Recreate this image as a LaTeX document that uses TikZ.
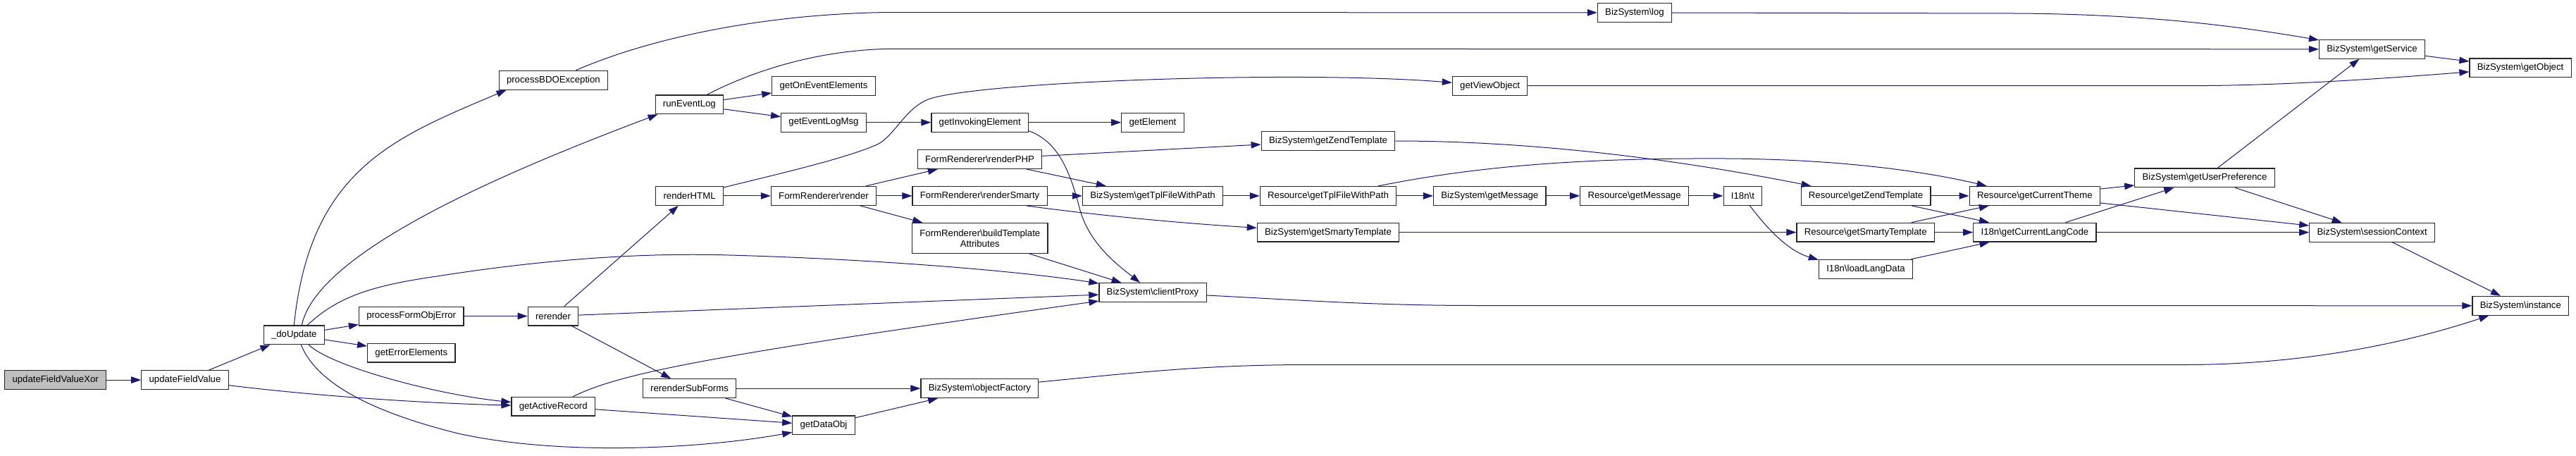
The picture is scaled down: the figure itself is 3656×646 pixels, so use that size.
\documentclass[tikz,border=0pt]{standalone}
\usepackage{fontspec}
\setmainfont{Liberation Sans}
\usetikzlibrary{arrows.meta}
\definecolor{callblue}{HTML}{191970}
\newcommand{\nsep}{\textbackslash{}}

\begin{document}
\begin{tikzpicture}[
  x=1pt, y=-1pt,
  font=\fontsize{13.2}{15}\selectfont,
  fn/.style={rectangle, draw=black!85, line width=1.2pt, fill=white, inner xsep=10.8pt,
             inner ysep=5pt, minimum height=26.8pt, align=center},
  root/.style={fn, fill=black!25},
  call/.style={-{Triangle[length=14pt,width=9.5pt]}, draw=callblue, line width=1pt}
]
\path[use as bounding box, fill=white] (0,0) rectangle (3656,646);

\node[root] (root)  at (78.7,539.1)   {updateFieldValueXor};
\node[fn]   (upd)   at (262.5,539.1)  {updateFieldValue};
\node[fn]   (doupd) at (417.3,475.3)  {\_doUpdate};
\node[fn]   (pfoe)  at (583.7,448.5)  {processFormObjError};
\node[fn]   (gee)   at (583.8,500.6)  {getErrorElements};
\node[fn]   (bdo)   at (785.4,113.7)  {processBDOException};
\node[fn]   (rer)   at (785,448.5)    {rerender};
\node[fn]   (gar)   at (785.2,576.6)  {getActiveRecord};
\node[fn]   (rel)   at (978.4,148.3)  {runEventLog};
\node[fn]   (rhtml) at (978.6,277.9)  {renderHTML};
\node[fn]   (rsf)   at (978.6,551.1)  {rerenderSubForms};
\node[fn]   (goee)  at (1169,121.7)   {getOnEventElements};
\node[fn]   (gelm)  at (1169,173.7)   {getEventLogMsg};
\node[fn]   (frr)   at (1169,277.9)   {FormRenderer\nsep render};
\node[fn]   (gdo)   at (1169,603.4)   {getDataObj};
\node[fn]   (ginv)  at (1390.7,173.7) {getInvokingElement};
\node[fn]   (rphp)  at (1390.6,226)   {FormRenderer\nsep renderPHP};
\node[fn]   (rsm)   at (1390.6,277.9) {FormRenderer\nsep renderSmarty};
\node[fn, minimum height=42.9pt] (btpl) at (1390.8,337.9) {FormRenderer\nsep buildTemplate\\Attributes};
\node[fn]   (bof)   at (1390.4,551.1) {BizSystem\nsep objectFactory};
\node[fn]   (gel)   at (1636,173.7)   {getElement};
\node[fn]   (btfp)  at (1636,277.9)   {BizSystem\nsep getTplFileWithPath};
\node[fn]   (cp)    at (1636,415.1)   {BizSystem\nsep clientProxy};
\node[fn]   (bzt)   at (1885,200)     {BizSystem\nsep getZendTemplate};
\node[fn]   (rtfp)  at (1885,277.9)   {Resource\nsep getTplFileWithPath};
\node[fn]   (bst)   at (1885,329.6)   {BizSystem\nsep getSmartyTemplate};
\node[fn]   (gvo)   at (2114.6,121.7) {getViewObject};
\node[fn]   (bgm)   at (2114.3,277.9) {BizSystem\nsep getMessage};
\node[fn]   (blog)  at (2320,17.9)    {BizSystem\nsep log};
\node[fn]   (rgm)   at (2319.6,277.9) {Resource\nsep getMessage};
\node[fn]   (it)    at (2473.4,277.9) {I18n\nsep t};
\node[fn]   (rzt)   at (2648,277.9)   {Resource\nsep getZendTemplate};
\node[fn]   (rst)   at (2647.7,329.6) {Resource\nsep getSmartyTemplate};
\node[fn]   (lld)   at (2648,381.7)   {I18n\nsep loadLangData};
\node[fn]   (gct)   at (2887.8,277.9) {Resource\nsep getCurrentTheme};
\node[fn]   (glc)   at (2887.9,329.6) {I18n\nsep getCurrentLangCode};
\node[fn]   (gup)   at (3129,252.4)   {BizSystem\nsep getUserPreference};
\node[fn]   (gsv)   at (3366.5,69.8)  {BizSystem\nsep getService};
\node[fn]   (sctx)  at (3366.7,329.7) {BizSystem\nsep sessionContext};
\node[fn]   (gobj)  at (3577,96.3)    {BizSystem\nsep getObject};
\node[fn]   (inst)  at (3577.3,433.8) {BizSystem\nsep instance};

\draw[call] (root) -- (upd);
\draw[call] (upd) -- (doupd);
\draw[call] (upd) .. controls (450,562) and (600,572) .. (gar);
\draw[call] (doupd.north) .. controls (440,240) and (560,195) .. ([xshift=11pt]bdo.south west);
\draw[call] ([xshift=11pt]doupd.north) .. controls (450,360) and (700,250) .. ([xshift=4pt]rel.south west);
\draw[call] ([xshift=19pt]doupd.north) .. controls (480,420) and (530,405) .. (620,392)
  .. controls (760,370) and (900,358) .. (1035,362)
  .. controls (1250,368) and (1450,385) .. ([yshift=-1pt]cp.north west);
\draw[call] (doupd) -- (pfoe);
\draw[call] (doupd) -- (gee);
\draw[call] ([xshift=21pt]doupd.south) .. controls (470,520) and (620,560) .. (gar);
\draw[call] ([xshift=10pt]doupd.south) .. controls (450,545) and (530,585) .. (650,615)
  .. controls (800,648) and (1000,636) .. ([yshift=4pt]gdo.south west);
\draw[call] ([xshift=32pt]bdo.north) .. controls (920,55) and (1080,20) .. (1260,17.5) -- (blog);
\draw[call] ([xshift=25pt]rel.north) .. controls (1060,105) and (1150,72) .. (1260,69.3) -- (gsv);
\draw[call] (rel) -- (goee);
\draw[call] (rel) -- (gelm);
\draw[call] (gelm) -- (ginv);
\draw[call] (ginv) -- (gel);
\draw[call] ([yshift=2pt]ginv.south east) .. controls (1500,200) and (1518,240) .. (1532,295)
  .. controls (1545,345) and (1585,375) .. ([xshift=-18pt]cp.north);
\draw[call] (blog) -- (2860,19) .. controls (3050,20) and (3180,38) .. ([yshift=-1pt]gsv.north west);
\draw[call] ([yshift=-2pt]rhtml.north east) .. controls (1100,248) and (1200,225) .. (1245,205)
  .. controls (1270,193) and (1285,152) .. (1320,140)
  .. controls (1400,115) and (1850,100) .. (gvo);
\draw[call] (rhtml) -- (frr);
\draw[call] (frr) -- (rphp);
\draw[call] (frr) -- (rsm);
\draw[call] (frr) -- (btpl);
\draw[call] (rphp) -- (bzt);
\draw[call] (rphp) -- (btfp);
\draw[call] (rsm) -- (btfp);
\draw[call] ([xshift=66pt]rsm.south) .. controls (1530,302) and (1650,315) .. (bst);
\draw[call] (btpl) -- (cp);
\draw[call] (btfp) -- (rtfp);
\draw[call] (bzt) .. controls (2150,200) and (2350,220) .. ([xshift=15pt]rzt.north west);
\draw[call] (rtfp) -- (bgm);
\draw[call] ([xshift=71pt]rtfp.north) .. controls (2100,235) and (2250,224) .. (2450,225)
  .. controls (2620,226) and (2740,245) .. ([xshift=25pt]gct.north west);
\draw[call] (bgm) -- (rgm);
\draw[call] (rgm) -- (it);
\draw[call] (bst) -- (rst);
\draw[call] ([xshift=10pt]it.south) .. controls (2505,320) and (2535,355) .. ([yshift=-1pt]lld.north west);
\draw[call] (rzt) -- (gct);
\draw[call] (rzt) -- (glc);
\draw[call] (rst) -- (gct);
\draw[call] (rst) -- (glc);
\draw[call] (lld) -- (glc);
\draw[call] (gct) -- (gup);
\draw[call] (gct) -- (sctx);
\draw[call] (glc) -- (gup);
\draw[call] (glc) -- (sctx);
\draw[call] (gup) -- (gsv);
\draw[call] (gup) -- (sctx);
\draw[call] (gsv) -- (gobj);
\draw[call] (gvo) -- (3100,121.7) .. controls (3250,121.7) and (3400,110) .. (gobj);
\draw[call] ([yshift=9pt]bof.east) .. controls (1600,530) and (1700,518) .. (1850,517.5) -- (3100,517.5)
  .. controls (3300,517.5) and (3450,475) .. ([xshift=24pt]inst.south west);
\draw[call] (cp) .. controls (1850,426) and (1950,433.5) .. (2100,433.5) -- (inst);
\draw[call] (sctx) -- (inst);
\draw[call] (pfoe) -- (rer);
\draw[call] (rer) -- (rhtml);
\draw[call] (rer) -- (cp);
\draw[call] (rer) -- (rsf);
\draw[call] ([xshift=28pt]gar.north) .. controls (880,530) and (1000,505) .. ([yshift=2pt]cp.south west);
\draw[call] (gar) -- (gdo);
\draw[call] (rsf) -- (bof);
\draw[call] (rsf) -- (gdo);
\draw[call] (gdo) -- (bof);
\end{tikzpicture}
\end{document}
